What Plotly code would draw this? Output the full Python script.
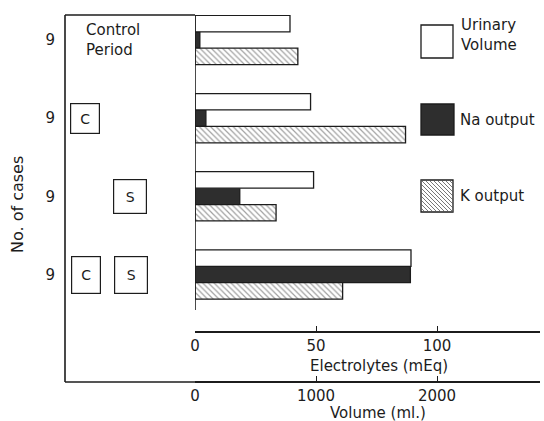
import plotly.graph_objects as go

W, H = 544, 421


def px(x):
    return x / W


def py(y):
    return 1 - y / H


# ---------------- data ----------------
periods = ["Control Period", "C", "S", "C + S"]
cases = [9, 9, 9, 9]
urinary_volume_ml = [785, 955, 980, 1785]
na_output_meq = [2, 4.5, 18.5, 89]
k_output_meq = [42.5, 87, 33.5, 61]
electrolyte_ticks = [0, 50, 100]
volume_ticks = [0, 1000, 2000]

FONT = "DejaVu Sans"
INK = "#1c1c1c"

# scale: 2.42 px per mEq, 1000 ml drawn as long as 50 mEq
MEQ_MAX = (540 - 195) / 2.42
VOL_MAX = MEQ_MAX * 20

fig = go.Figure()
bw = 0.21
fig.add_bar(y=periods, x=urinary_volume_ml, orientation="h", xaxis="x2", yaxis="y",
            width=bw, offset=-1.5 * bw, name="Urinary Volume",
            marker=dict(color="white", line=dict(color=INK, width=1.3)))
fig.add_bar(y=periods, x=na_output_meq, orientation="h", xaxis="x", yaxis="y",
            width=bw, offset=-0.5 * bw, name="Na output",
            marker=dict(color="#2e2e2e", line=dict(color=INK, width=1.3)))
fig.add_bar(y=periods, x=k_output_meq, orientation="h", xaxis="x", yaxis="y",
            width=bw, offset=0.5 * bw, name="K output",
            marker=dict(color="white", line=dict(color=INK, width=1.3),
                        pattern=dict(shape="\\", fgcolor="#444", bgcolor="white",
                                     size=4, solidity=0.3)))

shapes = []
# left box (top, left side) and bottom line up to volume axis start
shapes.append(dict(type="line", xref="paper", yref="paper", x0=px(65), x1=px(195),
                   y0=py(15), y1=py(15), line=dict(color=INK, width=1.6)))
shapes.append(dict(type="line", xref="paper", yref="paper", x0=px(65), x1=px(65),
                   y0=py(15), y1=py(382), line=dict(color=INK, width=1.6)))
shapes.append(dict(type="line", xref="paper", yref="paper", x0=px(65), x1=px(195),
                   y0=py(382), y1=py(382), line=dict(color=INK, width=1.6)))
# vertical baseline of bars
shapes.append(dict(type="line", xref="x", yref="paper", x0=0, x1=0,
                   y0=py(15), y1=py(310), line=dict(color=INK, width=1.6)))

# custom legend
shapes.append(dict(type="rect", xref="paper", yref="paper", x0=px(421), x1=px(453),
                   y0=py(58), y1=py(25), fillcolor="white", line=dict(color=INK, width=1.3)))
shapes.append(dict(type="rect", xref="paper", yref="paper", x0=px(421), x1=px(454),
                   y0=py(135), y1=py(104), fillcolor="#2e2e2e", line=dict(color=INK, width=1.3)))
shapes.append(dict(type="rect", xref="paper", yref="paper", x0=px(421), x1=px(453),
                   y0=py(212), y1=py(180), fillcolor="white", line=dict(color=INK, width=1.3)))
bx0, by0, s = 421, 180, 32
for d in range(-s + 4, s, 4):
    t0 = max(0, -d)
    t1 = min(s, s - d)
    shapes.append(dict(type="line", xref="paper", yref="paper",
                       x0=px(bx0 + d + t0), y0=py(by0 + t0),
                       x1=px(bx0 + d + t1), y1=py(by0 + t1),
                       line=dict(color="#555", width=0.8)))

annotations = []


def note(text, x, y, size=15, xanchor="center", yref="paper", **kw):
    annotations.append(dict(text=text, xref="paper", yref=yref, x=x, y=y,
                            xanchor=xanchor, yanchor="middle", showarrow=False,
                            font=dict(family=FONT, size=size, color=INK), **kw))


note("Control<br>Period", px(84), periods[0], xanchor="left", yref="y", align="left")
treat_boxes = [("C", "C", 85, 28, 29), ("S", "S", 130, 32, 33),
               ("C + S", "C", 86, 28, 36), ("C + S", "S", 131, 32, 36)]
for per, letter, xc, w, h in treat_boxes:
    note(letter, px(xc), per, size=14, yref="y", width=w, height=h, borderpad=0,
         bordercolor=INK, borderwidth=1.2)
note("No. of cases", px(17), py(205), size=16, textangle=-90)
note("Urinary<br>Volume", px(459), py(35), xanchor="left", align="left")
note("Na output", px(458), py(120), xanchor="left")
note("K output", px(458), py(196), xanchor="left")
note("Electrolytes (mEq)", px(379), py(366))
note("Volume (ml.)", px(378), py(413))

y_top = -(40 - 15) / 78.2
y_bot = 3 + (310 - 274.5) / 78.2

fig.update_layout(
    width=W, height=H,
    margin=dict(l=0, r=0, t=0, b=0),
    paper_bgcolor="white", plot_bgcolor="white",
    showlegend=False, barmode="overlay",
    font=dict(family=FONT, size=15, color=INK),
    shapes=shapes, annotations=annotations,
    xaxis=dict(domain=[px(195), px(540)], range=[0, MEQ_MAX], anchor="free",
               position=py(332), showline=True, linecolor=INK, linewidth=1.6,
               ticks="inside", ticklen=5, tickcolor=INK, tickvals=electrolyte_ticks,
               showgrid=False, zeroline=False, automargin=False,
               tickfont=dict(family=FONT, size=15, color=INK)),
    xaxis2=dict(overlaying="x", range=[0, VOL_MAX], anchor="free", position=py(382),
                side="bottom", showline=True, linecolor=INK, linewidth=1.6,
                ticks="inside", ticklen=5, tickcolor=INK, tickvals=volume_ticks,
                showgrid=False, zeroline=False, automargin=False,
                tickfont=dict(family=FONT, size=15, color=INK)),
    yaxis=dict(domain=[py(310), py(15)], range=[y_bot, y_top], type="category",
               categoryorder="array", categoryarray=periods,
               anchor="free", position=px(65), showline=False, showgrid=False,
               zeroline=False, ticks="", tickvals=periods,
               ticktext=[str(c) for c in cases], ticklabelstandoff=10,
               automargin=False, tickfont=dict(family=FONT, size=15, color=INK)),
)

fig.write_html("out.html", config={"displayModeBar": False},
               post_script="document.body.style.margin='0';document.body.style.overflow='hidden';")
